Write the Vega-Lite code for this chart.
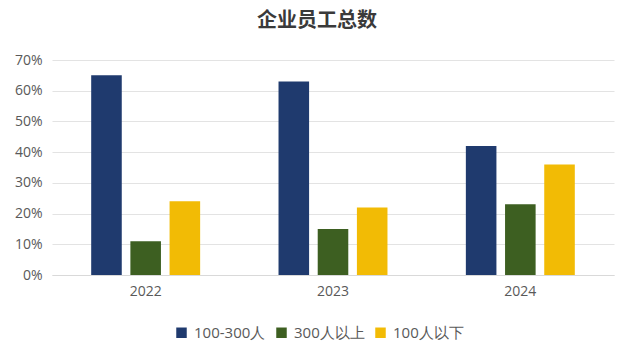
{
  "$schema": "https://vega.github.io/schema/vega-lite/v6.json",
  "width": 562,
  "height": 215,
  "autosize": {"type": "none"},
  "padding": {"left": 52, "top": 60, "right": 20, "bottom": 85},
  "background": "white",
  "title": {
    "text": "企业员工总数",
    "font": "Noto Sans CJK SC",
    "fontSize": 20,
    "fontWeight": "bold",
    "color": "#3a3a3a",
    "anchor": "middle",
    "dx": -16,
    "offset": 22
  },
  "data": {
    "values": [
      {"year": "2022", "group": "100-300人", "value": 0.65},
      {"year": "2022", "group": "300人以上", "value": 0.11},
      {"year": "2022", "group": "100人以下", "value": 0.24},
      {"year": "2023", "group": "100-300人", "value": 0.63},
      {"year": "2023", "group": "300人以上", "value": 0.15},
      {"year": "2023", "group": "100人以下", "value": 0.22},
      {"year": "2024", "group": "100-300人", "value": 0.42},
      {"year": "2024", "group": "300人以上", "value": 0.23},
      {"year": "2024", "group": "100人以下", "value": 0.36}
    ]
  },
  "mark": {"type": "bar"},
  "encoding": {
    "x": {
      "field": "year",
      "type": "nominal",
      "scale": {"paddingInner": 0, "paddingOuter": 0},
      "axis": {
        "title": null,
        "labelAngle": 0,
        "labelFont": "Open Sans",
        "labelFontSize": 14,
        "labelColor": "#595959",
        "ticks": false,
        "domainColor": "#d9d9d9",
        "labelPadding": 9
      }
    },
    "xOffset": {
      "field": "group",
      "type": "nominal",
      "sort": ["100-300人", "300人以上", "100人以下"],
      "scale": {"paddingInner": 0.22, "paddingOuter": 1.04}
    },
    "y": {
      "field": "value",
      "type": "quantitative",
      "scale": {"domain": [0, 0.7]},
      "axis": {
        "title": null,
        "format": ".0%",
        "values": [0, 0.1, 0.2, 0.3, 0.4, 0.5, 0.6, 0.7],
        "labelOverlap": false,
        "labelFont": "Open Sans",
        "labelFontSize": 14,
        "labelColor": "#595959",
        "ticks": false,
        "domain": false,
        "gridColor": "#e3e3e3",
        "labelPadding": 10
      }
    },
    "color": {
      "field": "group",
      "type": "nominal",
      "sort": ["100-300人", "300人以上", "100人以下"],
      "scale": {
        "domain": ["100-300人", "300人以上", "100人以下"],
        "range": ["#1f3a6e", "#3d5f21", "#f2bb05"]
      },
      "legend": {
        "title": null,
        "orient": "none",
        "legendX": 122,
        "legendY": 265,
        "direction": "horizontal",
        "symbolType": "square",
        "symbolSize": 110,
        "symbolStrokeWidth": 0,
        "labelFont": "Open Sans",
        "labelFontSize": 15,
        "labelColor": "#595959",
        "columnPadding": 8,
        "labelOffset": 5
      }
    }
  },
  "config": {"view": {"stroke": null}}
}
